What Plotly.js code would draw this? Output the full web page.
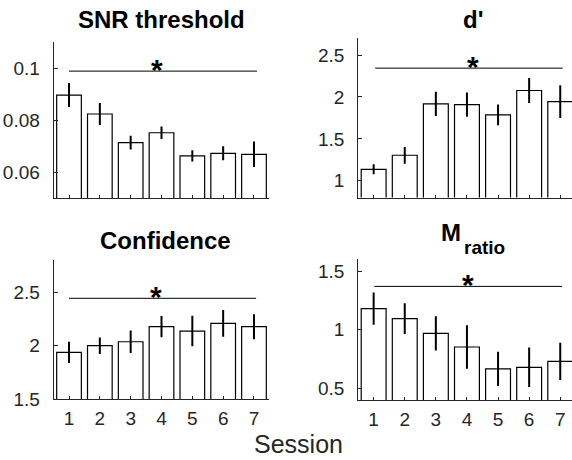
<!DOCTYPE html>
<html>
<head>
<meta charset="utf-8">
<script src="https://cdn.plot.ly/plotly-3.0.1.min.js"></script>
<style>html,body{margin:0;padding:0;background:#fff;}#chart{width:572px;height:460px;}</style>
</head>
<body>
<div id="chart"></div>
<script>
const sessions = [1, 2, 3, 4, 5, 6, 7];
const sessionLabels = ['1', '2', '3', '4', '5', '6', '7'];

const snrMean = [0.0896, 0.0823, 0.0713, 0.0751, 0.0662, 0.0672, 0.0668];
const snrErr  = [0.0046, 0.0042, 0.0026, 0.0024, 0.0022, 0.0027, 0.0049];

const dMean = [1.136, 1.304, 1.917, 1.909, 1.786, 2.077, 1.945];
const dErr  = [0.060, 0.100, 0.145, 0.145, 0.124, 0.150, 0.195];

const confMean = [1.939, 2.001, 2.038, 2.179, 2.138, 2.210, 2.179];
const confErr  = [0.100, 0.077, 0.106, 0.100, 0.143, 0.125, 0.117];

const mMean = [1.179, 1.094, 0.969, 0.852, 0.665, 0.679, 0.730];
const mErr  = [0.138, 0.132, 0.146, 0.185, 0.146, 0.168, 0.159];

const sigLevels = [0.0988, 2.344, 2.444, 1.369];
const sigStart = [1.0, 1.05, 1.0, 1.02];
const sigEnd = [7.1, 7.08, 7.07, 7.06];
const starX = [3.87, 4.18, 3.82, 4.02];

const titles = ['SNR threshold', "d'", 'Confidence', 'M'];

const FONT = 'Liberation Sans, Arial, Helvetica, sans-serif';
const AX = '#262626';

const panels = [
  {mean: snrMean, err: snrErr, xd: [53.6/572, 269.4/572], yd: [1-198/460, 1-42/460], yr: [0.05, 0.11],
   tv: [0.06, 0.08, 0.1], tt: ['0.06', '0.08', '0.1'], xr: [0.5, 7.5], bottom: false},
  {mean: dMean, err: dErr, xd: [358.1/572, 1], yd: [1-197.5/460, 1-38.3/460], yr: [0.8, 2.7],
   tv: [1, 1.5, 2, 2.5], tt: ['1', '1.5', '2', '2.5'], xr: [0.5, 7.378], bottom: false},
  {mean: confMean, err: confErr, xd: [53.6/572, 269.4/572], yd: [1-399.3/460, 1-260.2/460], yr: [1.5, 2.8],
   tv: [1.5, 2, 2.5], tt: ['1.5', '2', '2.5'], xr: [0.5, 7.5], bottom: true},
  {mean: mMean, err: mErr, xd: [358.1/572, 1], yd: [1-400/460, 1-259.3/460], yr: [0.4, 1.6],
   tv: [0.5, 1, 1.5], tt: ['0.5', '1', '1.5'], xr: [0.5, 7.378], bottom: true}
];

const data = [];
const layout = {
  width: 572, height: 460,
  margin: {l: 0, r: 0, t: 0, b: 0},
  paper_bgcolor: '#fff', plot_bgcolor: '#fff',
  showlegend: false,
  font: {family: FONT, color: AX, size: 19},
  annotations: []
};

panels.forEach((p, i) => {
  const n = i + 1;
  const xa = 'x' + (n === 1 ? '' : n), ya = 'y' + (n === 1 ? '' : n);
  data.push({
    type: 'bar', x: sessions, y: p.mean, xaxis: xa, yaxis: ya, width: 0.8,
    marker: {color: '#ffffff', line: {color: '#000000', width: 1.2}},
    error_y: {type: 'data', array: p.err, visible: true, color: '#000000', thickness: 2, width: 0},
    hoverinfo: 'skip'
  });
  data.push({
    type: 'scatter', mode: 'lines', x: [sigStart[i], sigEnd[i]], y: [sigLevels[i], sigLevels[i]],
    xaxis: xa, yaxis: ya, line: {color: '#000000', width: 1}, hoverinfo: 'skip'
  });
  layout['xaxis' + (n === 1 ? '' : n)] = {
    domain: p.xd, range: p.xr, anchor: ya,
    tickvals: sessions, ticktext: sessionLabels, showticklabels: p.bottom,
    ticks: 'inside', ticklen: 3, tickcolor: AX, tickwidth: 1,
    showline: true, linecolor: AX, linewidth: 1, zeroline: false, showgrid: false,
    tickfont: {size: 19, color: AX, family: FONT}, ticklabelstandoff: 2, fixedrange: true
  };
  layout['yaxis' + (n === 1 ? '' : n)] = {
    domain: p.yd, range: p.yr, anchor: xa,
    tickvals: p.tv, ticktext: p.tt,
    ticks: 'inside', ticklen: 4, tickcolor: AX, tickwidth: 1,
    showline: true, linecolor: AX, linewidth: 1, zeroline: false, showgrid: false,
    tickfont: {size: 19, color: AX, family: FONT}, ticklabelstandoff: 9, fixedrange: true
  };
  layout.annotations.push({
    xref: xa, yref: ya, x: starX[i], y: sigLevels[i], text: '<b>*</b>', showarrow: false,
    xanchor: 'center', yanchor: 'middle', yshift: 2, font: {size: 30, color: '#000', family: FONT}
  });
});

// subplot titles
const titlePos = [[161.2, 20], [472.7, 20], [165.8, 240], [451.3, 232]];
titles.forEach((t, i) => {
  layout.annotations.push({
    xref: 'paper', yref: 'paper', x: titlePos[i][0] / 572, y: 1 - titlePos[i][1] / 460,
    text: '<b>' + t + '</b>', showarrow: false, xanchor: 'center', yanchor: 'middle',
    font: {size: 24, color: '#000', family: FONT}
  });
});
layout.annotations.push({
  xref: 'paper', yref: 'paper', x: 484.7 / 572, y: 1 - 247 / 460,
  text: '<b>ratio</b>', showarrow: false, xanchor: 'center', yanchor: 'middle',
  font: {size: 19, color: '#000', family: FONT}
});
// shared x label
layout.annotations.push({
  xref: 'paper', yref: 'paper', x: 298 / 572, y: 0,
  text: 'Session', showarrow: false, xanchor: 'center', yanchor: 'bottom',
  font: {size: 25, color: AX, family: FONT}
});

Plotly.newPlot('chart', data, layout, {displayModeBar: false, staticPlot: true});
</script>
</body>
</html>
